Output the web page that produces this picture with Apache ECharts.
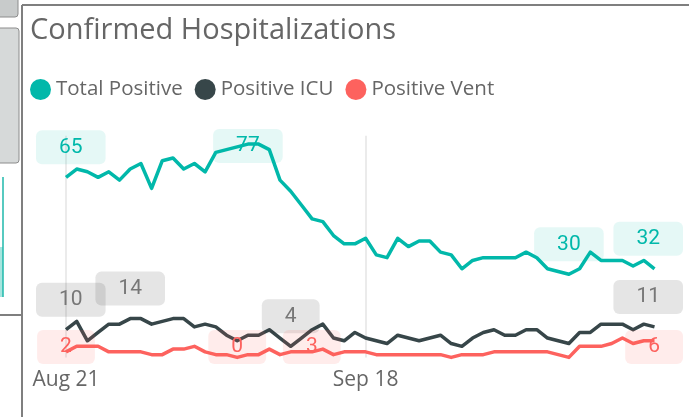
<!DOCTYPE html>
<html>
<head>
<meta charset="utf-8">
<script src="https://cdn.jsdelivr.net/npm/echarts@6/dist/echarts.min.js"></script>
<style>
html, body { margin: 0; padding: 0; background: #fff; }
#chart1 { width: 689px; height: 417px; }
</style>
</head>
<body>
<div id="chart1"></div>
<script>
// daily dates, Aug 21 .. Oct 15
var dates = [
    'Aug 21', 'Aug 22', 'Aug 23', 'Aug 24', 'Aug 25', 'Aug 26', 'Aug 27', 'Aug 28', 'Aug 29', 'Aug 30', 'Aug 31',
    'Sep 1', 'Sep 2', 'Sep 3', 'Sep 4', 'Sep 5', 'Sep 6', 'Sep 7', 'Sep 8', 'Sep 9', 'Sep 10',
    'Sep 11', 'Sep 12', 'Sep 13', 'Sep 14', 'Sep 15', 'Sep 16', 'Sep 17', 'Sep 18', 'Sep 19', 'Sep 20',
    'Sep 21', 'Sep 22', 'Sep 23', 'Sep 24', 'Sep 25', 'Sep 26', 'Sep 27', 'Sep 28', 'Sep 29', 'Sep 30',
    'Oct 1', 'Oct 2', 'Oct 3', 'Oct 4', 'Oct 5', 'Oct 6', 'Oct 7', 'Oct 8', 'Oct 9', 'Oct 10',
    'Oct 11', 'Oct 12', 'Oct 13', 'Oct 14', 'Oct 15'
];

var totalPositive = [65, 68, 67, 65, 67, 64, 68, 70, 61, 71, 72, 68, 70, 67, 74, 75, 76, 77, 77, 75,
    64, 60, 55, 50, 49, 44, 41, 41, 43, 37, 36, 43, 40, 42, 42, 38, 37, 32, 35, 36,
    36, 36, 36, 38, 36, 32, 31, 30, 32, 38, 35, 35, 35, 33, 35, 32];
var positiveICU = [10, 13, 6, 9, 12, 12, 14, 14, 12, 13, 14, 14, 11, 12, 11, 8, 6, 8, 8, 10,
    7, 4, 7, 10, 12, 7, 6, 9, 7, 6, 5, 8, 7, 6, 7, 8, 5, 4, 7, 9,
    10, 8, 8, 10, 10, 7, 6, 5, 9, 9, 12, 12, 12, 10, 12, 11];
var positiveVent = [2, 4, 4, 4, 2, 2, 2, 2, 1, 1, 3, 3, 4, 2, 1, 1, 0, 1, 1, 3,
    1, 2, 2, 2, 3, 1, 2, 2, 2, 1, 1, 1, 1, 1, 1, 1, 0, 1, 1, 1,
    2, 2, 2, 2, 2, 2, 1, 0, 4, 4, 4, 5, 7, 5, 6, 6];

// which points carry a data label
var totalLabelIdx = [0, 17, 47, 55];
var icuLabelIdx = [0, 6, 21, 55];
var ventLabelIdx = [0, 16, 24, 55];

var seriesNames = ['Total Positive', 'Positive ICU', 'Positive Vent'];
var colors = ['#01B8AA', '#374649', '#FD625E'];
var labelText = ['#01B8AA', '#777777', '#FD625E'];
var labelBg = ['rgba(1,184,170,0.1)', 'rgba(40,40,40,0.12)', 'rgba(253,98,94,0.12)'];

// area the power bi labels get pushed into
var labelBounds = { left: 36, right: 683, top: 129, bottom: 364 };
// the "3" vent label sits a little left of its point in the original
var labelNudge = { 2: { 24: -11 } };

var uiFont = "'Segoe UI', 'Open Sans', sans-serif";

var myChart = echarts.init(document.getElementById('chart1'));

function baseSeries(i, values) {
    return {
        name: seriesNames[i],
        type: 'line',
        data: values,
        symbol: 'circle',
        symbolSize: 0,
        showAllSymbol: true,
        clip: false,
        lineStyle: { width: 3.5, color: colors[i], join: 'round' },
        itemStyle: { color: colors[i] },
        emphasis: { disabled: true },
        label: { show: false }
    };
}

var option = {
    animation: false,
    backgroundColor: '#fff',
    color: colors,
    title: {
        text: 'Confirmed Hospitalizations',
        left: 25,
        top: 11,
        textStyle: {
            fontFamily: uiFont,
            fontSize: 29,
            fontWeight: 'normal',
            color: '#666'
        }
    },
    legend: {
        data: seriesNames,
        left: 30,
        top: 79,
        padding: 0,
        icon: 'circle',
        itemWidth: 21,
        itemHeight: 21,
        itemGap: 12,
        textStyle: {
            fontFamily: uiFont,
            fontSize: 20.5,
            color: '#666'
        }
    },
    grid: { left: 66, right: 34.5, top: 135.8, bottom: 59.6 },
    xAxis: {
        type: 'category',
        data: dates,
        boundaryGap: false,
        axisLine: { show: false },
        axisTick: { show: false },
        axisLabel: {
            interval: 27,
            margin: 12,
            fontFamily: uiFont,
            fontSize: 21,
            color: '#666'
        },
        splitLine: {
            show: true,
            interval: 27,
            lineStyle: { color: '#ebebeb', width: 2 }
        }
    },
    yAxis: {
        type: 'value',
        min: 0,
        max: 80,
        show: false,
        splitLine: { show: false }
    },
    graphic: [
        { type: 'rect', shape: { x: -3, y: -4, width: 21, height: 21, r: 3 }, style: { fill: '#c8cbcb', stroke: '#8c8c8c', lineWidth: 1 } },
        { type: 'rect', shape: { x: -3, y: 28, width: 22, height: 135, r: 3 }, style: { fill: '#d6d9d9', stroke: '#8c8c8c', lineWidth: 1 } },
        { type: 'line', shape: { x1: 22, y1: 5, x2: 689, y2: 5 }, style: { stroke: '#7f7f7f', lineWidth: 2 } },
        { type: 'line', shape: { x1: 22, y1: 5, x2: 22, y2: 417 }, style: { stroke: '#7f7f7f', lineWidth: 2 } },
        { type: 'rect', shape: { x: 0, y: 247, width: 3, height: 50 }, style: { fill: '#a6e5df' } },
        { type: 'line', shape: { x1: 3, y1: 177, x2: 3, y2: 297 }, style: { stroke: '#1fb9ab', lineWidth: 1.5 } },
        { type: 'line', shape: { x1: 0, y1: 315, x2: 22, y2: 315 }, style: { stroke: '#7f7f7f', lineWidth: 2 } }
    ],
    series: [
        baseSeries(0, totalPositive),
        baseSeries(1, positiveICU),
        baseSeries(2, positiveVent)
    ]
};

myChart.setOption(option);

// put labels above (or below for vent) the point, kept inside the label area
function labelledData(s, values, idxList, below) {
    return values.map(function(v, idx) {
        if (idxList.indexOf(idx) < 0) {
            return v;
        }
        var p = myChart.convertToPixel({ seriesIndex: s }, [idx, v]);
        var w = String(v).length * 11.8 + 46;
        var h = 34;
        var cy = below ? p[1] + 30 : p[1] - 30;
        cy = Math.max(labelBounds.top + h / 2, Math.min(labelBounds.bottom - h / 2, cy));
        var cx = Math.max(labelBounds.left + w / 2, Math.min(labelBounds.right - w / 2, p[0]));
        if (labelNudge[s] && labelNudge[s][idx]) {
            cx += labelNudge[s][idx];
        }
        return {
            value: v,
            label: {
                show: true,
                position: 'inside',
                offset: [cx - p[0], cy - p[1]],
                formatter: '{c}',
                fontFamily: 'Roboto, sans-serif',
                fontSize: 21,
                lineHeight: 24,
                color: labelText[s],
                backgroundColor: labelBg[s],
                borderRadius: 6,
                padding: [6, 23, 4, 23]
            }
        };
    });
}

myChart.setOption({
    series: [
        { data: labelledData(0, totalPositive, totalLabelIdx, false) },
        { data: labelledData(1, positiveICU, icuLabelIdx, false) },
        { data: labelledData(2, positiveVent, ventLabelIdx, true) }
    ]
});
</script>
</body>
</html>
